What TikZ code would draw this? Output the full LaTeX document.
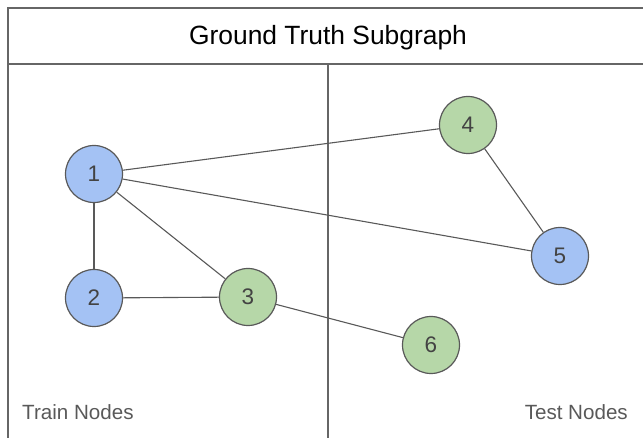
\documentclass[tikz,border=0pt]{standalone}
\usepackage{fontspec}
\setmainfont{Liberation Sans}
\definecolor{nodeblue}{HTML}{A4C2F4}
\definecolor{nodegreen}{HTML}{B6D7A8}
\definecolor{rim}{HTML}{595959}
\definecolor{digit}{HTML}{434343}
\definecolor{frame}{HTML}{666666}
\begin{document}
\begin{tikzpicture}[x=1pt,y=-1pt,
  vertex/.style={circle,draw=rim,line width=1.2pt,minimum size=57pt,inner sep=0pt,
    text=digit,font=\fontsize{22.5}{26}\selectfont},
  trainv/.style={vertex,fill=nodeblue},
  testv/.style={vertex,fill=nodegreen},
  link/.style={draw=rim,line width=1.1pt},
  border/.style={draw=frame,line width=1.3pt},
  caption/.style={text=rim,font=\fontsize{20.6}{23}\selectfont,inner sep=0pt}]
\useasboundingbox (0,0) rectangle (643,438);
% panel frame
\draw[border] (8,438) -- (8,8) -- (643,8);
\draw[border] (8,64) -- (643,64);
\draw[border] (328,64) -- (328,438);
\node[font=\fontsize{26.4}{30}\selectfont,text=black] (title) at (328,38) {Ground Truth Subgraph};
\node[caption,anchor=base west] (trainlbl) at (22,420) {Train Nodes};
\node[caption,anchor=base east] (testlbl) at (628,420) {Test Nodes};
% graph vertices
\node[trainv] (n1) at (94,174) {1};
\node[trainv] (n2) at (94,298) {2};
\node[testv]  (n3) at (248,297) {3};
\node[testv]  (n4) at (468,125) {4};
\node[trainv] (n5) at (560,256) {5};
\node[testv]  (n6) at (431,345) {6};
% edges
\draw[link] (n1) -- (n4);
\draw[link] (n1) -- (n5);
\draw[link] (n1) -- (n2);
\draw[link] (n1) -- (n3);
\draw[link] (n2) -- (n3);
\draw[link] (n3) -- (n6);
\draw[link] (n4) -- (n5);
\end{tikzpicture}
\end{document}
